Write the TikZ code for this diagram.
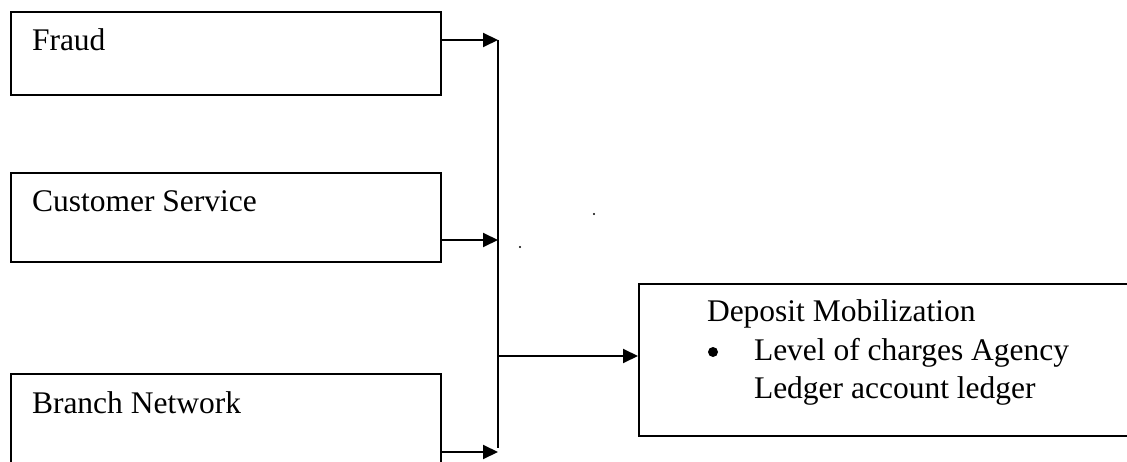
\documentclass[tikz,border=0pt]{standalone}
\usepackage{fontspec}
\setmainfont{Liberation Serif}
\usetikzlibrary{arrows.meta}
\begin{document}
\begin{tikzpicture}[x=1pt, y=-1pt, line width=2pt,
  box/.style={draw, line width=2pt, inner sep=0pt, anchor=north west},
  lbl/.style={anchor=base west, inner sep=0pt, font=\fontsize{31.5}{38}\selectfont},
  feed/.style={-{Triangle[length=15pt,width=14pt]}}]
\useasboundingbox (0,0) rectangle (1127,462);
\clip (0,0) rectangle (1127,462);

% factor boxes
\node[box, minimum width=430pt, minimum height=83pt]  (fraud)  at (10,11)  {};
\node[box, minimum width=430pt, minimum height=89pt]  (cs)     at (10,172) {};
\node[box, minimum width=430pt, minimum height=130pt] (branch) at (10,373) {};
\node[box, minimum width=520pt, minimum height=152pt] (deposit) at (638,283) {};

% labels
\node[lbl] (fraudtxt)  at (31,51)  {Fraud};
\node[lbl] (cstxt)     at (31,212) {Customer Service};
\node[lbl] (branchtxt) at (31,413) {Branch Network};
\node[lbl] (deptitle)  at (706,322) {Deposit Mobilization};
\fill (713,352) circle (5pt);
\node[lbl] (depline1)  at (753,360) {Level of charges Agency};
\node[lbl] (depline2)  at (753,398) {Ledger account ledger};

% collecting bus
\coordinate (busTop) at (498,40);
\coordinate (busBot) at (498,448);
\coordinate (csIn)   at (498,240);
\coordinate (brIn)   at (498,452);
\coordinate (busOut) at (498,356);

\draw[feed] (fraud.east |- busTop) -- (busTop);
\draw[feed] (cs.east |- csIn) -- (csIn);
\draw[feed] (branch.east |- brIn) -- (brIn);
\draw (busTop) -- (busBot);
\draw[feed] (busOut) -- (deposit.west |- busOut);

% stray marks
\fill (594,214) circle (1.2pt);
\fill (520,247) circle (1.2pt);
\end{tikzpicture}
\end{document}
